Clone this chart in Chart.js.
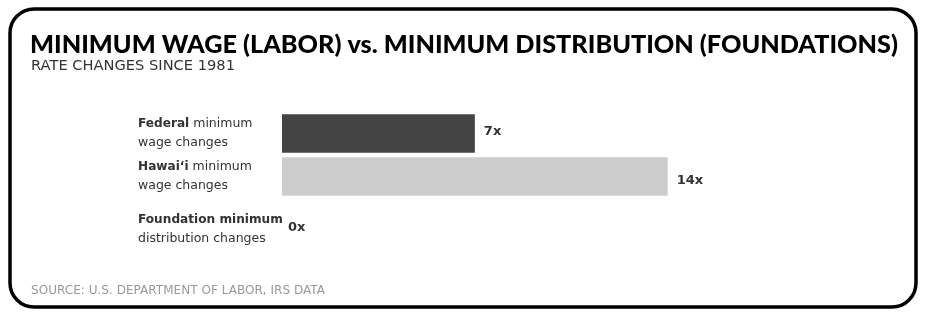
<!DOCTYPE html>
<html>
<head>
<meta charset="utf-8">
<script src="https://cdn.jsdelivr.net/npm/chart.js@4.4.1/dist/chart.umd.min.js"></script>
<style>
  html, body { margin: 0; padding: 0; background: #fff; }
  #wrap { position: relative; width: 940px; height: 318px; }
</style>
</head>
<body>
<div id="wrap"><canvas id="wageChart" width="940" height="318"></canvas></div>
<script>
// data
const categories = ['Federal', 'Hawai\u02bbi', 'Foundation'];
const boldLabels = ['Federal', 'Hawai\u02bbi', 'Foundation minimum'];
const restLabels = [' minimum', ' minimum', ''];
const secondLines = ['wage changes', 'wage changes', 'distribution changes'];
const changeCounts = [7, 14, 0];
const barColors = ['#444444', '#cccccc', '#999999'];

const titleText = 'MINIMUM WAGE (LABOR) vs. MINIMUM DISTRIBUTION (FOUNDATIONS)';
const subtitleText = 'RATE CHANGES SINCE 1981';
const sourceText = 'SOURCE: U.S. DEPARTMENT OF LABOR, IRS DATA';

const HEAD_FONT = '"Lato", "Noto Sans", sans-serif';
const FONT = '"DejaVu Sans", "Noto Sans", sans-serif';
const lastRowShift = 10; // the empty row sits a bit lower in the original

// draws text stretched/squeezed to a given width
function fitText(ctx, text, x, y, width) {
    const w = ctx.measureText(text).width;
    ctx.save();
    ctx.translate(x, y);
    ctx.scale(width / w, 1);
    ctx.fillText(text, 0, 0);
    ctx.restore();
}

// frame, headings, labels and value tags
const decorPlugin = {
    id: 'decor',
    beforeDraw(chart) {
        const ctx = chart.ctx;
        ctx.save();
        ctx.fillStyle = '#fff';
        ctx.fillRect(0, 0, chart.width, chart.height);
        // rounded frame
        ctx.lineWidth = 3.5;
        ctx.strokeStyle = '#000';
        ctx.beginPath();
        ctx.roundRect(10, 9, 906, 298, 24);
        ctx.stroke();
        // title
        ctx.fillStyle = '#000';
        ctx.textBaseline = 'alphabetic';
        ctx.font = '900 25px ' + HEAD_FONT;
        fitText(ctx, titleText, 30, 53, 868);
        ctx.fillStyle = '#333';
        ctx.font = '14.5px ' + FONT;
        fitText(ctx, subtitleText, 31, 70, 204);
        ctx.fillStyle = '#999';
        ctx.font = '11.5px ' + FONT;
        fitText(ctx, sourceText, 31, 294, 294);
        ctx.restore();
    },
    afterDatasetsDraw(chart) {
        const ctx = chart.ctx;
        const meta = chart.getDatasetMeta(0);
        const yScale = chart.scales.y;
        ctx.save();
        ctx.textBaseline = 'middle';
        ctx.fillStyle = '#333';
        categories.forEach((c, i) => {
            const y = yScale.getPixelForValue(i) + (i === categories.length - 1 ? lastRowShift : 0);
            // left labels
            ctx.textAlign = 'left';
            ctx.font = 'bold 12.5px ' + FONT;
            fitText(ctx, boldLabels[i], 138, y - 10, ctx.measureText(boldLabels[i]).width * 0.97);
            const w = ctx.measureText(boldLabels[i]).width * 0.97;
            ctx.font = '12.5px ' + FONT;
            ctx.fillText(restLabels[i], 138 + w, y - 10);
            ctx.fillText(secondLines[i], 138, y + 9);
            // value tag
            const bar = meta.data[i];
            ctx.font = 'bold 13px ' + FONT;
            ctx.fillText(changeCounts[i] + 'x', bar.x + (changeCounts[i] ? 9 : 6), y + (i === 1 ? 4 : -2));
        });
        ctx.restore();
    }
};

const ctx = document.getElementById('wageChart').getContext('2d');
const chartInstance = new Chart(ctx, {
    type: 'bar',
    data: {
        labels: categories,
        datasets: [{
            data: changeCounts,
            backgroundColor: barColors,
            barPercentage: 0.9,
            categoryPercentage: 1.0
        }]
    },
    options: {
        indexAxis: 'y',
        responsive: false,
        animation: false,
        layout: { padding: { left: 282, right: 107, top: 112, bottom: 77 } },
        plugins: { legend: { display: false }, tooltip: { enabled: false } },
        scales: {
            x: { display: false, min: 0, max: 20 },
            y: { display: false }
        }
    },
    plugins: [decorPlugin]
});
</script>
</body>
</html>
